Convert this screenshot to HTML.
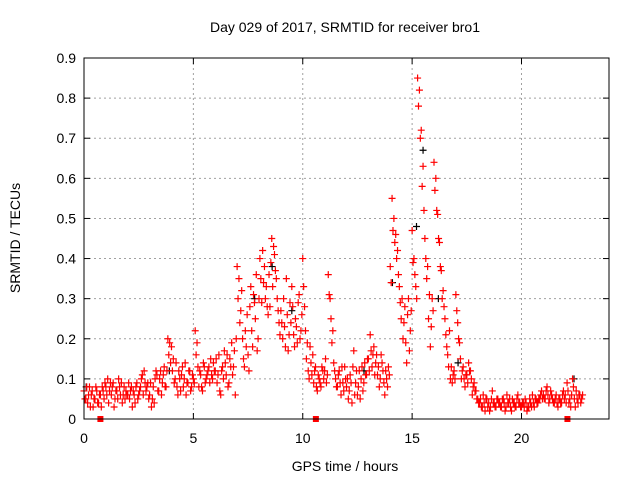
<!DOCTYPE html>
<html><head><meta charset="utf-8"><style>
body{margin:0;background:#fff}
svg text{font-family:"Liberation Sans",sans-serif;font-size:14px;fill:#000}
</style></head><body>
<svg id="chart" width="640" height="480" xmlns="http://www.w3.org/2000/svg">
<text x="345" y="32" text-anchor="middle">Day 029 of 2017, SRMTID for receiver bro1</text>
<text transform="translate(20,238) rotate(-90)" text-anchor="middle">SRMTID / TECUs</text>
<text x="345" y="471" text-anchor="middle">GPS time / hours</text>
<g id="grid"></g>
<g id="ticks"></g>
<g id="black"></g>
<g id="red"></g>
<rect x="84" y="58" width="525" height="361" fill="none" stroke="#000" stroke-width="1"/>
</svg>
<script>
const xTicks=[0,5,10,15,20];
const yTicks=[0,0.1,0.2,0.3,0.4,0.5,0.6,0.7,0.8,0.9];
const yTickLabels=["0","0.1","0.2","0.3","0.4","0.5","0.6","0.7","0.8","0.9"];
const hours=[0,1,2,3,4,5,6,7,8,9,10,11,12,13,14,15,16,17,18,19,20,21,22];
const redValues=[
[.07,.05,.04,.08,.06,.03,.05,.07,.04,.06,.08,.05],
[.08,.10,.07,.06,.09,.05,.07,.10,.06,.04,.08,.07],
[.06,.05,.08,.07,.04,.09,.06,.08,.11,.12,.07,.09],
[.06,.03,.08,.10,.11,.07,.12,.09,.13,.08,.20,.19],
[.18,.15,.10,.08,.12,.07,.13,.10,.06,.09,.12,.08],
[.10,.22,.19,.08,.11,.07,.13,.10,.12,.09,.11,.14],
[.12,.09,.16,.06,.13,.17,.11,.08,.15,.19,.13,.06],
[.38,.35,.27,.20,.13,.18,.16,.28,.22,.31,.25,.17],
[.30,.35,.42,.38,.33,.26,.28,.45,.43,.37,.30,.24],
[.27,.20,.23,.35,.17,.29,.33,.21,.25,.19,.31,.22],
[.40,.28,.15,.12,.18,.11,.09,.13,.07,.10,.08,.12],
[.12,.09,.36,.30,.19,.14,.10,.08,.12,.06,.09,.13],
[.08,.05,.11,.04,.17,.09,.06,.12,.10,.07,.14,.11],
[.15,.21,.13,.18,.14,.11,.08,.16,.12,.06,.10,.13],
[.38,.55,.50,.46,.42,.33,.25,.20,.28,.14,.30,.22],
[.47,.40,.33,.85,.82,.72,.63,.45,.35,.25,.18,.30],
[.64,.60,.51,.44,.37,.32,.25,.18,.13,.10,.09,.12],
[.31,.24,.19,.10,.13,.08,.11,.14,.12,.06,.09,.07],
[.05,.04,.03,.06,.02,.05,.04,.03,.07,.04,.03,.05],
[.04,.03,.05,.02,.06,.04,.03,.05,.04,.03,.06,.04],
[.03,.04,.05,.02,.03,.04,.06,.03,.05,.04,.05,.07],
[.06,.05,.08,.04,.07,.05,.04,.06,.03,.05,.04,.07],
[.06,.09,.04,.03,.10,.05,.07,.04,.06,.05]
];
const redValuesB=[
[.05,.08,.06,.03,.07,.05,.08,.04,.06,.03,.07,.09],
[.06,.04,.09,.08,.03,.07,.05,.08,.09,.06,.05,.06],
[.09,.07,.03,.06,.08,.05,.07,.10,.06,.09,.08,.05],
[.09,.05,.04,.12,.07,.10,.06,.11,.08,.12,.16,.14],
[.12,.09,.14,.06,.10,.11,.08,.14,.09,.12,.07,.11],
[.09,.16,.13,.12,.08,.14,.09,.11,.13,.15,.10,.12],
[.15,.11,.07,.12,.10,.14,.16,.09,.13,.11,.17,.20],
[.30,.24,.32,.15,.22,.26,.12,.33,.18,.29,.36,.20],
[.40,.29,.34,.30,.28,.36,.39,.33,.41,.35,.27,.21],
[.24,.30,.18,.26,.21,.24,.28,.18,.23,.29,.20,.26],
[.33,.22,.19,.10,.14,.16,.12,.08,.11,.09,.13,.10],
[.15,.11,.31,.25,.22,.12,.08,.11,.09,.13,.07,.10],
[.10,.07,.09,.13,.06,.12,.08,.05,.13,.09,.11,.15],
[.12,.17,.16,.11,.16,.13,.10,.14,.09,.12,.08,.11],
[.34,.47,.44,.40,.36,.29,.30,.24,.19,.26,.17,.27],
[.39,.36,.30,.78,.70,.58,.52,.40,.38,.31,.23,.27],
[.57,.52,.45,.38,.30,.28,.21,.16,.22,.13,.11,.10],
[.27,.20,.15,.12,.10,.11,.09,.12,.10,.08,.07,.05],
[.04,.05,.03,.04,.05,.03,.02,.05,.04,.03,.05,.04],
[.03,.05,.04,.03,.04,.05,.02,.04,.03,.05,.04,.03],
[.04,.03,.04,.03,.05,.03,.04,.05,.04,.05,.06,.05],
[.05,.07,.06,.05,.06,.04,.05,.04,.05,.04,.06,.05],
[.04,.07,.05,.06,.08,.03,.05,.06,.04,.06]
];
const blackTimes=[0.1,3.9,7.8,8.6,9.5,12.8,14.1,15.2,15.5,16.2,17.1,22.4];
const blackValues=[.08,.12,.30,.38,.27,.12,.34,.48,.67,.30,.14,.10];
const markerTimes=[0.75,10.6,22.1];
const markerValues=[0,0,0];

const NS="http://www.w3.org/2000/svg";
const X0=84,X1=609,Y0=419,Y1=58,XMAX=24,YMAX=0.9;
function sx(t){return X0+(X1-X0)*t/XMAX;}
function sy(v){return Y0-(Y0-Y1)*v/YMAX;}
function mk(tag,attrs,parent){const e=document.createElementNS(NS,tag);for(const k in attrs)e.setAttribute(k,attrs[k]);parent.appendChild(e);return e;}
const grid=document.getElementById('grid'),ticks=document.getElementById('ticks');
xTicks.forEach(t=>{
  const x=sx(t);
  if(t>0){const g=mk('line',{x1:x,x2:x,y1:Y1,y2:Y0,stroke:'#a0a0a0','stroke-dasharray':'2,3'},grid);
  
  }
  mk('line',{x1:x,x2:x,y1:Y0,y2:Y0-6,stroke:'#000'},ticks);
  mk('line',{x1:x,x2:x,y1:Y1,y2:Y1+6,stroke:'#000'},ticks);
  const l=mk('text',{x:x,y:Y0+24,'text-anchor':'middle'},ticks);l.textContent=String(t);
  
  
});
yTicks.forEach((v,i)=>{
  const y=sy(v);
  if(v>0&&v<0.9){const g=mk('line',{x1:X0,x2:X1,y1:y,y2:y,stroke:'#a0a0a0','stroke-dasharray':'2,3'},grid);
  
  }
  mk('line',{x1:X0,x2:X0+6,y1:y,y2:y,stroke:'#000'},ticks);
  mk('line',{x1:X1,x2:X1-6,y1:y,y2:y,stroke:'#000'},ticks);
  const l=mk('text',{x:X0-8,y:y+5,'text-anchor':'end'},ticks);l.textContent=yTickLabels[i];
  
  
});
function plus(parent,t,v,color){
  const x=sx(t),y=sy(v);
  const p=mk('path',{d:`M${x-3.5},${y}H${x+3.5}M${x},${y-3.5}V${y+3.5}`,stroke:color,'stroke-width':1.2,fill:'none'},parent);
  
  
}
const black=document.getElementById('black'),red=document.getElementById('red');
blackTimes.forEach((t,i)=>plus(black,t,blackValues[i],'#000'));
hours.forEach((h,i)=>{
  redValues[i].forEach((v,j)=>plus(red,h+j/12,v,'#f00'));
  redValuesB[i].forEach((v,j)=>plus(red,h+(j+0.5)/12,v,'#f00'));
});
markerTimes.forEach((t,i)=>{
  const r=mk('rect',{x:sx(t)-3,y:sy(markerValues[i])-3,width:6,height:6,fill:'#f00'},red);
  
  
});
</script>
</body></html>
